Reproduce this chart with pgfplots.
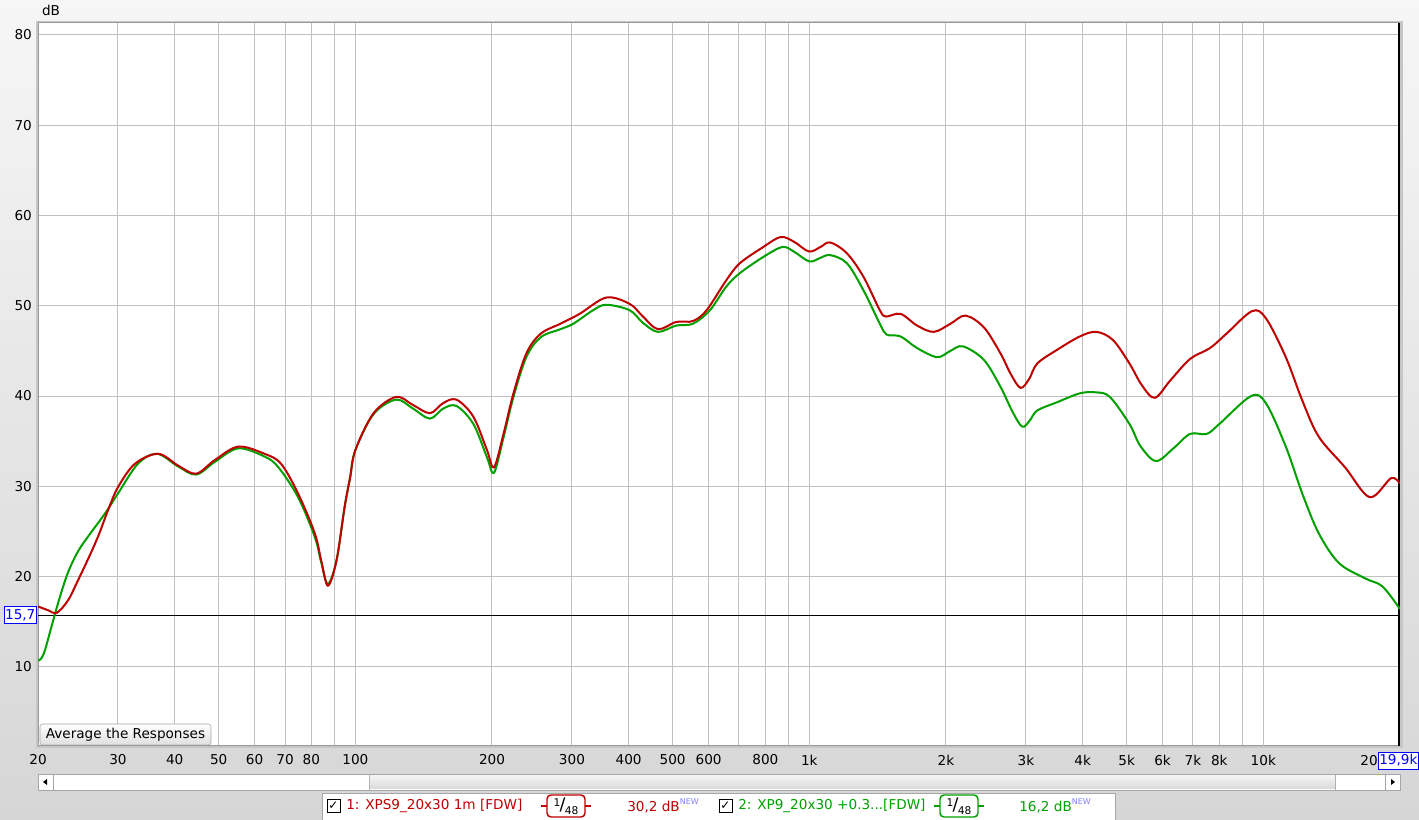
\documentclass[border=0pt]{standalone}
\usepackage{pgfplots}
\pgfplotsset{compat=1.18}
\usepackage{fontspec}
\setmainfont{DejaVu Sans}
\definecolor{rewred}{RGB}{190,0,0}
\definecolor{rewgreen}{RGB}{0,160,0}
\definecolor{gridc}{RGB}{192,192,192}
\definecolor{decc}{RGB}{128,128,128}
\definecolor{bgtop}{RGB}{246,246,246}
\definecolor{bgbot}{RGB}{214,214,214}
\definecolor{cursorblue}{RGB}{0,0,255}
\definecolor{newblue}{RGB}{130,130,255}

\pgfplotstableread{
f db
20 16.7
21 16.3
22 16.0
23.3 17.4
24.5 19.6
25.7 21.8
27.1 24.4
28.5 27.3
30.0 29.9
32.7 32.5
36.8 33.6
40.7 32.3
44.6 31.4
49.0 32.9
55.2 34.4
63.1 33.6
68.6 32.5
74.8 29.2
81.4 24.8
84.1 21.8
87.0 19.0
90.9 21.8
94.7 27.7
97.4 31.0
100 34.0
109.7 38.1
123 39.9
134 39.0
146 38.1
156 39.2
167 39.6
182 37.7
195 34.0
202 32.1
212 35.8
223 40.3
238 44.7
256 46.9
283 48.0
312 49.1
357 50.9
402 50.2
430 48.8
464 47.4
509 48.2
554 48.3
594 49.5
656 52.8
703 54.7
792 56.5
864 57.6
924 57.1
998 56.0
1058 56.5
1112 57.0
1210 55.8
1316 53.2
1430 49.5
1475 48.8
1588 49.1
1728 47.8
1880 47.1
2046 48.0
2208 48.9
2424 47.6
2638 44.7
2780 42.4
2920 40.9
3050 41.9
3178 43.6
3510 45.1
3946 46.6
4290 47.1
4664 46.2
5072 43.6
5400 41.2
5767 39.8
6234 41.7
6896 44.1
7628 45.3
8296 46.9
9444 49.4
10134 48.6
11208 44.3
12186 39.5
13246 35.5
15140 32.1
17160 28.8
19120 30.9
20000 30.3
}\redtable

\pgfplotstableread{
f db
20 10.7
20.3 10.9
20.7 11.8
21.45 14.6
22.3 17.6
23.3 20.5
24.5 22.8
26.0 24.7
28.1 27.0
30.0 29.2
33.2 32.5
36.6 33.6
40.7 32.2
44.6 31.3
49.0 32.7
55.2 34.2
63.1 33.3
67.7 32.1
74.8 28.8
81.4 24.4
84.1 21.6
87.0 19.2
90.9 21.8
94.7 27.7
97.4 31.0
100 34.0
109.7 38.0
123 39.6
134 38.6
146 37.5
156 38.6
167 38.9
182 36.9
195 33.2
202 31.5
212 35.4
223 39.9
238 44.3
256 46.5
283 47.4
302 48.0
334 49.5
357 50.1
402 49.5
430 48.1
464 47.1
509 47.8
554 48.0
604 49.5
656 52.1
703 53.6
792 55.4
872 56.5
924 56.0
1000 54.9
1058 55.3
1112 55.6
1210 54.7
1316 51.7
1430 48.0
1480 46.8
1588 46.6
1728 45.3
1913 44.3
2046 45.0
2180 45.5
2424 44.0
2638 41.0
2800 38.3
2944 36.6
3060 37.3
3178 38.4
3510 39.3
3946 40.3
4290 40.4
4592 39.9
5072 36.9
5356 34.5
5800 32.8
6338 34.2
6896 35.8
7500 35.8
8000 36.9
9400 40.0
10134 39.2
11208 34.4
12186 29.2
13246 24.8
14680 21.5
16780 19.8
18320 18.9
20000 16.4
}\greentable

\begin{document}
\fontsize{10.2}{12}\selectfont
\begin{tikzpicture}[x=0.75pt,y=0.75pt]
\useasboundingbox (0,0) rectangle (1419,820);
\shade[top color=bgtop, bottom color=bgbot] (0,0) rectangle (1419,820);
% plot shadow
\fill[gray!45] (36,72) rectangle (1403,799);
\begin{axis}[
  at={(28.5pt,55.5pt)}, anchor=south west,
  scale only axis, width=1021.5pt, height=542.25pt,
  xmode=log, xmin=20, xmax=20000, ymin=1.25, ymax=81.3,
  axis background/.style={fill=white},
  xtick={20,30,40,50,60,70,80,90,200,300,400,500,600,700,800,900,2000,3000,4000,5000,6000,7000,8000,9000},
  xticklabels={20,30,40,50,60,70,80,{},200,300,400,500,600,{},800,{},2k,3k,4k,5k,6k,7k,8k,{}},
  extra x ticks={100,1000,10000},
  extra x tick labels={100,1k,10k},
  extra x tick style={grid style={draw=decc, line width=0.9pt}},
  ytick={10,20,30,40,50,60,70,80},
  yticklabels={10,20,30,40,50,60,70,80},
  grid=major,
  major grid style={draw=gridc, line width=0.75pt},
  tick style={draw=none},
  axis line style={draw=gray!80, line width=0.75pt},
  every tick label/.append style={font=\fontsize{10.2}{12}\selectfont, text=black},
  xticklabel style={yshift=-3pt},
  yticklabel style={xshift=-1pt},
  clip=true,
]
\addplot[black, line width=0.75pt] coordinates {(20,15.7) (20000,15.7)};
\addplot[black, line width=1.5pt] coordinates {(19950,1.25) (19950,81.3)};
\addplot[rewgreen, line width=1.5pt, smooth, tension=0.55] table[x=f, y=db] {\greentable};
\addplot[rewred, line width=1.5pt, smooth, tension=0.55] table[x=f, y=db] {\redtable};
\end{axis}
% dB label
\node[anchor=center] at (51,810) {dB};
% last x label, partly hidden in the reference
\node[anchor=east, inner sep=0pt] at (1378,59.5) {20};
% cursor value boxes
\node[draw=cursorblue, fill=white, text=cursorblue, inner sep=1pt, anchor=east, minimum height=17*0.75pt] at (37,205) {15,7};
\node[draw=cursorblue, fill=white, text=cursorblue, inner sep=1pt, anchor=east, minimum height=17*0.75pt] at (1419,59.5) {19,9k};
% average button
\shade[top color=white, bottom color=gray!25, rounded corners=2pt] (40,75) rectangle (211,96);
\draw[gray!70, rounded corners=2pt] (40,75) rectangle (211,96);
\node at (125.5,85.5) {Average the Responses};
% scrollbar
\fill[white] (38,30) rectangle (1400,46);
\shade[top color=gray!8, bottom color=gray!30] (369,31) rectangle (1335,45);
\draw[gray!60] (369,30) -- (369,46) (1335,30) -- (1335,46);
\draw[gray!70] (38,30) rectangle (1400,46);
\draw[gray!70] (53,30) -- (53,46) (1385,30) -- (1385,46);
\fill[black] (43,38) -- (47,41) -- (47,35) -- cycle;
\fill[black] (1395,38) -- (1391,41) -- (1391,35) -- cycle;
% legend box
\fill[white] (322,0) rectangle (1115,27);
\draw[gray!70] (322,0) -- (322,27) -- (1115,27) -- (1115,0);
% entry 1
\draw[black, line width=0.6pt, fill=white] (327,8) rectangle (340,21);
\node at (333.5,14.5) {\fontsize{9}{9}\selectfont ✓};
\node[anchor=west, text=rewred, inner sep=0pt] at (346,14) {1: XPS9\_20x30 1m [FDW]};
\draw[rewred, line width=1.1pt] (541,14) -- (547,14) (585,14) -- (591,14);
\draw[rewred, line width=1.1pt, rounded corners=3pt] (547,3) rectangle (585,25);
\node at (566,14) {\raisebox{3pt}{\fontsize{8}{8}\selectfont 1}\kern-0.5pt{\fontsize{13}{13}\selectfont /}\kern-0.5pt\raisebox{-3pt}{\fontsize{8}{8}\selectfont 48}};
\node[anchor=west, text=rewred, inner sep=0pt] at (627,14) {30,2 dB\raisebox{5pt}{\textcolor{newblue}{\fontsize{6}{6}\selectfont NEW}}};
% entry 2
\draw[black, line width=0.6pt, fill=white] (719,8) rectangle (732,21);
\node at (725.5,14.5) {\fontsize{9}{9}\selectfont ✓};
\node[anchor=west, text=rewgreen, inner sep=0pt] at (738,14) {2: XP9\_20x30 +0.3...[FDW]};
\draw[rewgreen, line width=1.1pt] (934,14) -- (940,14) (978,14) -- (984,14);
\draw[rewgreen, line width=1.1pt, rounded corners=3pt] (940,3) rectangle (978,25);
\node at (959,14) {\raisebox{3pt}{\fontsize{8}{8}\selectfont 1}\kern-0.5pt{\fontsize{13}{13}\selectfont /}\kern-0.5pt\raisebox{-3pt}{\fontsize{8}{8}\selectfont 48}};
\node[anchor=west, text=rewgreen, inner sep=0pt] at (1019,14) {16,2 dB\raisebox{5pt}{\textcolor{newblue}{\fontsize{6}{6}\selectfont NEW}}};
\end{tikzpicture}
\end{document}
